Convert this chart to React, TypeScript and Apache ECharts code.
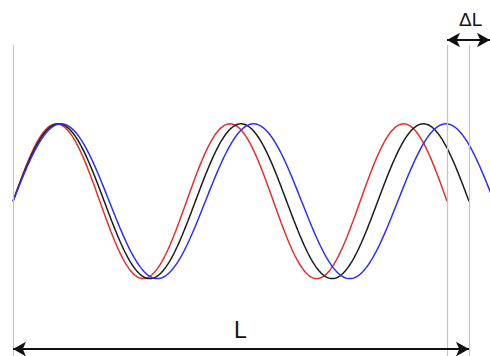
import React, { useEffect, useRef } from "react";
import * as echarts from "echarts";

// Three sine waves of slightly different wavelength, each running 2.5 cycles
// from the common start line. Lengths are in horizontal units from that line.
const waveNames = ["red", "black", "blue"];
const waveColors = ["#e2302e", "#1c1c1c", "#2f2ff0"];
const waveTotalLengths = [434, 456, 481];
const waveCycles = [2.5, 2.5, 2.5];

// Reference lines (start, end of the shortest wave, end of the middle wave)
const guideX = [0, 434, 456];
const lLabel = "L";
const deltaLabel = "ΔL";

const X_MIN = -13;
const X_MAX = 477;
const Y_MIN = -2;
const Y_MAX = 2.6;

function sineWave(total: number, cycles: number): number[][] {
  const wavelength = total / cycles;
  const pts: number[][] = [];
  for (let x = 0; x <= total; x += 1) {
    pts.push([x, Math.sin((2 * Math.PI * x) / wavelength)]);
  }
  pts.push([total, Math.sin((2 * Math.PI * total) / wavelength)]);
  return pts;
}

export default function App() {
  const ref = useRef<HTMLDivElement>(null);

  useEffect(() => {
    if (!ref.current) return;
    const chart = echarts.init(ref.current, null, { renderer: "svg" });

    const waveSeries = waveNames.map((name, i) => ({
      name,
      type: "line",
      data: sineWave(waveTotalLengths[i], waveCycles[i]),
      showSymbol: false,
      smooth: false,
      lineStyle: { color: waveColors[i], width: 1.5 },
      z: 3,
    }));

    const guideTop = 2.02;
    const guideSeries = {
      type: "line",
      data: [],
      silent: true,
      markLine: {
        silent: true,
        symbol: ["none", "none"],
        label: { show: false },
        lineStyle: { color: "#c4c4c4", width: 1.2, type: "solid" },
        data: guideX.map((x) => [
          { coord: [x, guideTop] },
          { coord: [x, Y_MIN] },
        ]),
      },
    };

    const arrowSeries = {
      type: "line",
      data: [],
      silent: true,
      markLine: {
        silent: true,
        symbol: ["arrow", "arrow"],
        symbolSize: [11, 13],
        label: { show: false },
        lineStyle: { color: "#111111", width: 2, type: "solid" },
        data: [
          [{ coord: [guideX[0], -1.91] }, { coord: [guideX[2], -1.91] }],
          [{ coord: [guideX[1], 2.083] }, { coord: [X_MAX, 2.083] }],
        ],
      },
      z: 4,
    };

    chart.setOption({
      animation: false,
      backgroundColor: "#ffffff",
      grid: { left: 0, right: 0, top: 0, bottom: 0 },
      xAxis: {
        type: "value",
        min: X_MIN,
        max: X_MAX,
        show: false,
      },
      yAxis: {
        type: "value",
        min: Y_MIN,
        max: Y_MAX,
        show: false,
      },
      graphic: [
        {
          type: "text",
          left: 234,
          top: 318,
          style: {
            text: lLabel,
            font: "23px 'Liberation Sans', Arial, sans-serif",
            fill: "#111111",
          },
        },
        {
          type: "text",
          left: 459,
          top: 10,
          style: {
            text: deltaLabel,
            font: "19px 'Liberation Sans', Arial, sans-serif",
            fill: "#111111",
          },
        },
      ],
      series: [guideSeries, ...waveSeries, arrowSeries],
    });

    return () => chart.dispose();
  }, []);

  return (
    <div
      ref={ref}
      style={{ position: "fixed", left: 0, top: 0, width: 490, height: 356 }}
    />
  );
}
